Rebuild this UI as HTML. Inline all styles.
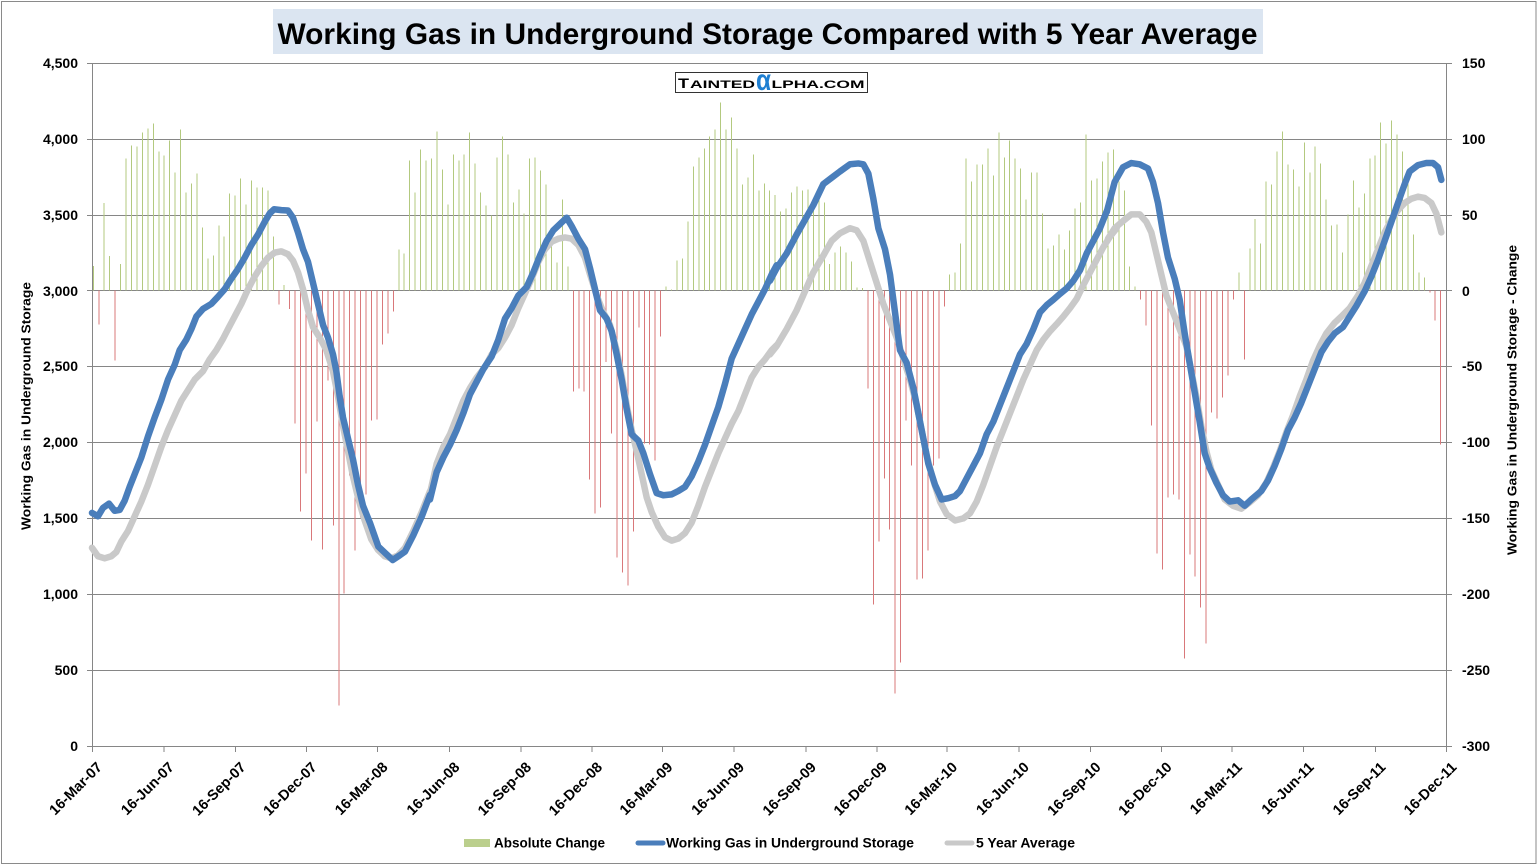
<!DOCTYPE html>
<html><head><meta charset="utf-8"><style>
html,body{margin:0;padding:0;background:#fff;}
svg{display:block;}
text{font-family:"Liberation Sans",Arial,sans-serif;font-weight:bold;fill:#000;}
</style></head><body>
<svg width="1537" height="865" viewBox="0 0 1537 865" xmlns="http://www.w3.org/2000/svg">
<rect x="0" y="0" width="1537" height="865" fill="#fff"/>
<rect x="1.5" y="1.5" width="1534.5" height="862" fill="none" stroke="#8a8a8a" stroke-width="1"/>

<!-- title -->
<rect x="273" y="9" width="990" height="45" fill="#dbe5f1"/>
<text x="277.5" y="44" font-size="30" textLength="980" lengthAdjust="spacingAndGlyphs">Working Gas in Underground Storage Compared with 5 Year Average</text>

<!-- gridlines -->
<g stroke="#868686" stroke-width="1" shape-rendering="crispEdges">
<line x1="87" y1="63.5" x2="1452" y2="63.5"/>
<line x1="87" y1="139.5" x2="1452" y2="139.5"/>
<line x1="87" y1="215.5" x2="1452" y2="215.5"/>
<line x1="87" y1="290.5" x2="1452" y2="290.5"/>
<line x1="87" y1="366.5" x2="1452" y2="366.5"/>
<line x1="87" y1="442.5" x2="1452" y2="442.5"/>
<line x1="87" y1="518.5" x2="1452" y2="518.5"/>
<line x1="87" y1="594.5" x2="1452" y2="594.5"/>
<line x1="87" y1="670.5" x2="1452" y2="670.5"/>
<line x1="87" y1="746.5" x2="1452" y2="746.5"/>
<line x1="92.5" y1="63" x2="92.5" y2="747"/>
<line x1="1446.5" y1="63" x2="1446.5" y2="747"/>
<g>
<line x1="92.5" y1="746" x2="92.5" y2="752"/>
<line x1="163.8" y1="746" x2="163.8" y2="752"/>
<line x1="235.6" y1="746" x2="235.6" y2="752"/>
<line x1="306.6" y1="746" x2="306.6" y2="752"/>
<line x1="377.6" y1="746" x2="377.6" y2="752"/>
<line x1="449.4" y1="746" x2="449.4" y2="752"/>
<line x1="521.1" y1="746" x2="521.1" y2="752"/>
<line x1="592.1" y1="746" x2="592.1" y2="752"/>
<line x1="662.4" y1="746" x2="662.4" y2="752"/>
<line x1="734.1" y1="746" x2="734.1" y2="752"/>
<line x1="805.9" y1="746" x2="805.9" y2="752"/>
<line x1="876.9" y1="746" x2="876.9" y2="752"/>
<line x1="947.2" y1="746" x2="947.2" y2="752"/>
<line x1="1018.9" y1="746" x2="1018.9" y2="752"/>
<line x1="1090.7" y1="746" x2="1090.7" y2="752"/>
<line x1="1161.7" y1="746" x2="1161.7" y2="752"/>
<line x1="1232" y1="746" x2="1232" y2="752"/>
<line x1="1303.7" y1="746" x2="1303.7" y2="752"/>
<line x1="1375.5" y1="746" x2="1375.5" y2="752"/>
<line x1="1446.5" y1="746" x2="1446.5" y2="752"/>
</g>
</g>

<!-- watermark -->
<rect x="675.5" y="72.5" width="192" height="20" fill="#fff" stroke="#333" stroke-width="1"/>
<text x="678" y="88" font-size="13.5" textLength="11" lengthAdjust="spacingAndGlyphs">T</text>
<text x="690" y="88" font-size="10.8" textLength="65" lengthAdjust="spacingAndGlyphs">AINTED</text>
<text x="756" y="90" font-size="30" textLength="15" lengthAdjust="spacingAndGlyphs" style="fill:#1e7fd2;font-weight:bold">α</text>
<text x="771.5" y="88" font-size="10.8" textLength="93" lengthAdjust="spacingAndGlyphs">LPHA.COM</text>

<!-- bars -->
<g transform="translate(93.3,290.7) scale(5.455,-1)" shape-rendering="crispEdges">
<path vector-effect="non-scaling-stroke" stroke="#b3c97f" stroke-width="1" fill="none" d="M0 0V24.8M2 0V87.9M3 0V34.9M5 0V26.9M6 0V132M7 0V145M8 0V144M9 0V158M10 0V162M11 0V167M12 0V139M13 0V135M14 0V150M15 0V118M16 0V161M17 0V98M18 0V107M19 0V117M20 0V63M21 0V32M22 0V35M23 0V65M24 0V54M25 0V97M26 0V95M27 0V112M28 0V86M29 0V110M30 0V103M31 0V103M32 0V100M33 0V54M35 0V5.5M56 0V41M57 0V37M58 0V130M59 0V98M60 0V141M61 0V130M62 0V132M63 0V159M64 0V121M65 0V86M66 0V136M67 0V130M68 0V136M69 0V158M70 0V127M71 0V98M72 0V85M73 0V75M74 0V133M75 0V154M76 0V136M77 0V88M78 0V101M79 0V77M80 0V132M81 0V133M82 0V120M83 0V106M84 0V58M85 0V28M86 0V91M87 0V24M105 0V4M106 0V1M107 0V30M108 0V32M109 0V69M110 0V124M111 0V133M112 0V142M113 0V154M114 0V161M115 0V188M116 0V161M117 0V173M118 0V142M119 0V106M120 0V113M121 0V136M122 0V100M123 0V107M124 0V100M125 0V95.5M126 0V79M127 0V82M128 0V98M129 0V104M130 0V100M131 0V101M132 0V82M133 0V100M134 0V88M135 0V26.5M136 0V38M137 0V44M138 0V38M139 0V29M140 0V3M141 0V2.5M157 0V16M158 0V18M159 0V47M160 0V132M161 0V109M162 0V126M163 0V126M164 0V142M165 0V115M166 0V158M167 0V133M168 0V150M169 0V132M170 0V122M171 0V91M172 0V118M173 0V118M174 0V77M175 0V42M176 0V45M177 0V56M178 0V41M179 0V60M180 0V82M181 0V88M182 0V156M183 0V110M184 0V112M185 0V129M186 0V138M187 0V141M188 0V109M189 0V100M190 0V24M191 0V4M210 0V18M212 0V42M213 0V71.5M214 0V47M215 0V109M216 0V106M217 0V139M218 0V159M219 0V126M220 0V121M221 0V104M222 0V148M223 0V118M224 0V144M225 0V127M226 0V91M227 0V65M228 0V66M229 0V38M230 0V76M231 0V110M232 0V83M233 0V97M234 0V132M235 0V135M236 0V168M237 0V147M238 0V170M239 0V156M240 0V139M241 0V113M242 0V56M243 0V18M244 0V13"/>
<path vector-effect="non-scaling-stroke" stroke="#d9787a" stroke-width="1" fill="none" d="M1 0V-34M4 0V-70M34 0V-14M36 0V-18.5M37 0V-133M38 0V-221M39 0V-183M40 0V-250M41 0V-131M42 0V-259M43 0V-90M44 0V-235M45 0V-415M46 0V-303M47 0V-185M48 0V-260M49 0V-227M50 0V-204M51 0V-130M52 0V-129M53 0V-54M54 0V-43M55 0V-21M88 0V-101M89 0V-98M90 0V-101M91 0V-189M92 0V-223M93 0V-217M94 0V-71.5M95 0V-143M96 0V-267M97 0V-282M98 0V-295M99 0V-241M100 0V-37M101 0V-153M102 0V-154M103 0V-170M104 0V-46M142 0V-98M143 0V-314M144 0V-251M145 0V-188M146 0V-239M147 0V-403M148 0V-372M149 0V-130M150 0V-175M151 0V-289M152 0V-288M153 0V-260M154 0V-175M155 0V-168M156 0V-16M192 0V-9M193 0V-35M194 0V-135M195 0V-263M196 0V-279M197 0V-207M198 0V-204M199 0V-209M200 0V-368M201 0V-264M202 0V-286M203 0V-317M204 0V-353M205 0V-122M206 0V-128M207 0V-107M208 0V-85M209 0V-9M211 0V-69M245 0V-2M246 0V-30M247 0V-154"/>
</g>

<!-- gray 5 year average -->
<g fill="none" stroke="#c9c9c9" stroke-width="6.5" stroke-linejoin="round" stroke-linecap="round">
<polyline vector-effect="non-scaling-stroke" transform="translate(88,60) scale(0.333333,0.420521)" points="12,1160 30,1180 50,1185 70,1180 85,1170 100,1145 120,1120 140,1085 160,1050 180,1010 200,965 220,920 240,880 260,845 280,810 300,785 320,760 345,740 365,712 385,690 405,663 420,640 440,610 460,580 480,545 500,515 520,490 540,470 560,458 580,455 600,462 615,477 630,505 645,545 660,595 675,635 695,660 715,690 735,740 750,800 765,870 780,930 795,990 810,1040 830,1095 850,1140 870,1165 890,1180 910,1185 930,1178 951,1160 976,1120 1001,1075 1026,1025"/>
<polyline vector-effect="non-scaling-stroke" transform="translate(430,60) scale(0.333333,0.420521)" points="0,1030 20,960 40,920 60,890 80,850 100,810 120,780 140,755 165,730 185,700 205,685 225,660 245,630 265,590 285,555 305,520 325,480 345,450 365,432 385,425 405,422 425,425 445,440 465,470 480,510 500,560 520,600 540,630 560,690 575,750 590,820 605,880 620,930 635,985 650,1040 665,1075 685,1110 705,1135 725,1143 745,1138 765,1125 785,1100 805,1060 825,1015 845,975 865,935 885,900 905,865 925,835 945,795 965,755 985,730 1005,712 1025,690 1040,678"/>
<polyline vector-effect="non-scaling-stroke" transform="translate(770,60) scale(0.333333,0.420521)" points="0,700 20,680 50,640 80,595 105,550 130,505 160,465 185,430 210,412 240,400 260,405 280,430 300,480 320,530 340,580 360,620 380,660 400,710 420,760 440,820 455,880 470,940 490,1000 510,1050 530,1080 555,1095 580,1090 600,1078 620,1050 640,1010 660,965 680,920 700,880 720,840 740,800 760,760 780,725 800,690 820,665 840,645 860,628 880,610 900,590 920,568 940,535 960,505 980,475 1000,445 1020,420 1040,400"/>
<polyline vector-effect="non-scaling-stroke" transform="translate(1108,60) scale(0.333333,0.420521)" points="0,425 20,400 45,383 70,367 95,367 115,385 130,410 145,460 160,510 175,560 195,600 215,640 235,680 250,740 265,800 280,870 295,930 310,975 330,1010 350,1045 375,1060 400,1067 425,1052 450,1035 475,1005 495,970 515,930 535,885 555,845 575,800 595,760 615,715 635,680 655,650 680,625 700,610 725,590 750,560 770,530 790,490 810,450 830,410 850,380 870,357 890,340 910,330 930,325 950,328 970,340 985,365 1000,410"/>
</g>

<!-- blue working gas -->
<g fill="none" stroke="#4a7ebb" stroke-width="6.5" stroke-linejoin="round" stroke-linecap="round">
<polyline vector-effect="non-scaling-stroke" transform="translate(88,60) scale(0.333333,0.420521)" points="12,1077 30,1085 45,1065 63,1055 80,1072 95,1070 110,1048 125,1015 140,985 160,945 180,895 200,850 220,808 240,760 260,725 275,690 295,665 310,640 325,610 345,592 370,580 390,563 410,545 430,520 450,497 470,470 490,440 510,415 530,385 545,365 558,355 580,357 600,358 615,375 630,410 645,450 660,480 675,530 690,580 705,630 720,660 735,700 745,740 755,800 765,850 780,900 795,950 810,1010 825,1060 846,1101 871,1157 891,1172 914,1189 935,1178 951,1169 976,1130 1001,1086 1026,1034"/>
<polyline vector-effect="non-scaling-stroke" transform="translate(430,60) scale(0.333333,0.420521)" points="0,1045 20,980 40,945 60,915 80,880 100,840 120,795 140,765 160,735 185,705 205,665 225,615 245,590 265,560 290,540 310,505 330,465 350,430 370,405 390,390 410,375 425,395 445,425 465,450 480,495 495,545 510,595 530,615 545,645 560,700 575,760 590,830 605,890 625,905 640,935 660,985 680,1030 700,1035 725,1033 745,1025 765,1015 785,990 805,955 825,915 845,870 865,825 885,770 905,710 925,675 945,640 965,605 985,575 1005,545 1025,510 1040,488"/>
<polyline vector-effect="non-scaling-stroke" transform="translate(770,60) scale(0.333333,0.420521)" points="0,525 20,495 50,460 80,415 105,380 130,345 160,295 185,280 210,265 240,248 265,246 280,248 295,270 310,330 325,400 345,450 360,510 375,600 390,690 410,720 430,780 445,840 460,900 475,960 495,1010 515,1045 535,1042 555,1037 570,1025 590,995 610,965 630,935 650,890 670,860 690,820 710,780 730,740 750,700 770,675 790,640 810,600 830,583 850,570 870,556 890,543 910,525 930,500 950,460 970,430 990,400 1010,360"/>
<polyline vector-effect="non-scaling-stroke" transform="translate(1108,60) scale(0.333333,0.420521)" points="-4,362 20,290 45,255 70,245 95,248 120,258 135,290 150,340 165,410 180,470 200,520 215,570 230,650 245,720 260,790 275,860 290,935 305,970 325,1005 345,1035 365,1050 390,1047 410,1060 430,1045 460,1025 480,1000 500,965 520,925 540,880 560,850 580,815 600,775 620,735 640,695 660,670 680,650 705,635 725,610 745,585 770,550 790,515 810,475 830,430 850,385 870,340 890,295 905,265 930,250 955,245 975,245 990,255 1000,285"/>
</g>

<!-- left axis labels -->
<g font-size="14" text-anchor="end">
<text x="78" y="68">4,500</text>
<text x="78" y="144">4,000</text>
<text x="78" y="220">3,500</text>
<text x="78" y="296">3,000</text>
<text x="78" y="371">2,500</text>
<text x="78" y="447">2,000</text>
<text x="78" y="523">1,500</text>
<text x="78" y="599">1,000</text>
<text x="78" y="675">500</text>
<text x="78" y="751">0</text>
</g>
<!-- right axis labels -->
<g font-size="14" text-anchor="start">
<text x="1462" y="68">150</text>
<text x="1462" y="144">100</text>
<text x="1462" y="220">50</text>
<text x="1462" y="296">0</text>
<text x="1462" y="371">-50</text>
<text x="1462" y="447">-100</text>
<text x="1462" y="523">-150</text>
<text x="1462" y="599">-200</text>
<text x="1462" y="675">-250</text>
<text x="1462" y="751">-300</text>
</g>

<!-- axis titles -->
<text transform="translate(30.5,406) rotate(-90)" text-anchor="middle" font-size="13" textLength="248" lengthAdjust="spacingAndGlyphs">Working Gas in Underground Storage</text>
<text transform="translate(1516.5,400) rotate(-90)" text-anchor="middle" font-size="13" textLength="310" lengthAdjust="spacingAndGlyphs">Working Gas in Underground Storage - Change</text>

<!-- x labels -->
<g font-size="14.5" text-anchor="end">
<text transform="translate(103,768) rotate(-45)">16-Mar-07</text>
<text transform="translate(174.8,768) rotate(-45)">16-Jun-07</text>
<text transform="translate(246.6,768) rotate(-45)">16-Sep-07</text>
<text transform="translate(317.6,768) rotate(-45)">16-Dec-07</text>
<text transform="translate(388.6,768) rotate(-45)">16-Mar-08</text>
<text transform="translate(460.4,768) rotate(-45)">16-Jun-08</text>
<text transform="translate(532.1,768) rotate(-45)">16-Sep-08</text>
<text transform="translate(603.1,768) rotate(-45)">16-Dec-08</text>
<text transform="translate(673.4,768) rotate(-45)">16-Mar-09</text>
<text transform="translate(745.1,768) rotate(-45)">16-Jun-09</text>
<text transform="translate(816.9,768) rotate(-45)">16-Sep-09</text>
<text transform="translate(887.9,768) rotate(-45)">16-Dec-09</text>
<text transform="translate(958.2,768) rotate(-45)">16-Mar-10</text>
<text transform="translate(1029.9,768) rotate(-45)">16-Jun-10</text>
<text transform="translate(1101.7,768) rotate(-45)">16-Sep-10</text>
<text transform="translate(1172.7,768) rotate(-45)">16-Dec-10</text>
<text transform="translate(1243,768) rotate(-45)">16-Mar-11</text>
<text transform="translate(1314.7,768) rotate(-45)">16-Jun-11</text>
<text transform="translate(1386.5,768) rotate(-45)">16-Sep-11</text>
<text transform="translate(1457.5,768) rotate(-45)">16-Dec-11</text>
</g>

<!-- legend -->
<rect x="464" y="839" width="26" height="8" fill="#bbcf8d"/>
<text x="494" y="847.5" font-size="14" textLength="111" lengthAdjust="spacingAndGlyphs">Absolute Change</text>
<line x1="638" y1="843" x2="663" y2="843" stroke="#4a7ebb" stroke-width="5" stroke-linecap="round"/>
<text x="666" y="847.5" font-size="14" textLength="248" lengthAdjust="spacingAndGlyphs">Working Gas in Underground Storage</text>
<line x1="947" y1="843" x2="972" y2="843" stroke="#c9c9c9" stroke-width="5" stroke-linecap="round"/>
<text x="976" y="847.5" font-size="14" textLength="99" lengthAdjust="spacingAndGlyphs">5 Year Average</text>
</svg>
</body></html>
